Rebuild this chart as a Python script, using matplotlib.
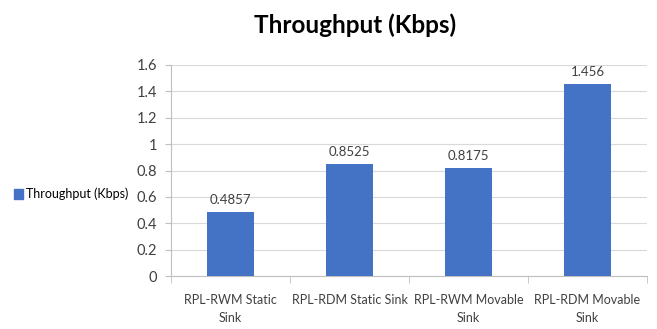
import matplotlib
matplotlib.use("Agg")
import matplotlib.pyplot as plt
from matplotlib.patches import Patch
import numpy as np

categories = ["RPL-RWM Static\nSink", "RPL-RDM Static Sink", "RPL-RWM Movable\nSink", "RPL-RDM Movable\nSink"]
values = [0.4857, 0.8525, 0.8175, 1.456]
value_labels = ["0.4857", "0.8525", "0.8175", "1.456"]
yticks = [0, 0.2, 0.4, 0.6, 0.8, 1, 1.2, 1.4, 1.6]
ytick_labels = ["0", "0.2", "0.4", "0.6", "0.8", "1", "1.2", "1.4", "1.6"]
series_name = "Throughput (Kbps)"

plt.rcParams['font.family'] = ['Lato', 'DejaVu Sans']

fig = plt.figure(figsize=(6.57, 3.29), dpi=100)
ax = fig.add_axes([171/657, 1 - 276/329, (647-171)/657, (276-65)/329])

bar_color = "#4472C4"
text_color = "#404040"
x = np.arange(len(categories))
ax.bar(x, values, width=0.4, color=bar_color, zorder=3)
for xi, v, lab in zip(x, values, value_labels):
    ax.text(xi, v + 0.045, lab, ha="center", va="bottom", fontsize=9.5, color=text_color)

ax.set_xlim(-0.5, len(categories) - 0.5)
ax.set_ylim(0, 1.6)
ax.set_yticks(yticks)
ax.set_yticklabels(ytick_labels, fontsize=10.5, color=text_color)
ax.yaxis.grid(True, color="#D9D9D9", linewidth=0.8, zorder=0)
ax.tick_params(axis="y", length=4, color="#BFBFBF", pad=6)

ax.set_xticks(x)
ax.set_xticklabels(categories, fontsize=9, color=text_color, linespacing=1.6)
ax.set_xticks(np.arange(len(categories) + 1) - 0.5, minor=True)
ax.tick_params(axis="x", which="major", length=0, pad=13)
ax.tick_params(axis="x", which="minor", length=5, color="#BFBFBF")

for s in ["top", "right"]:
    ax.spines[s].set_visible(False)
for s in ["left", "bottom"]:
    ax.spines[s].set_color("#BFBFBF")
    ax.spines[s].set_linewidth(0.8)

fig.text(355/657, 1 - 25/329, "Throughput (Kbps)", ha="center", va="center",
         fontsize=17.5, fontweight="bold", color="black")

fig.legend(handles=[Patch(color=bar_color, label=series_name)],
           loc="center left", bbox_to_anchor=(14/657, 1 - 194/329), frameon=False,
           fontsize=9, handlelength=0.7, handleheight=0.8, handletextpad=0.3,
           borderaxespad=0, borderpad=0)

fig.savefig("out.png", dpi=100, facecolor="white")
